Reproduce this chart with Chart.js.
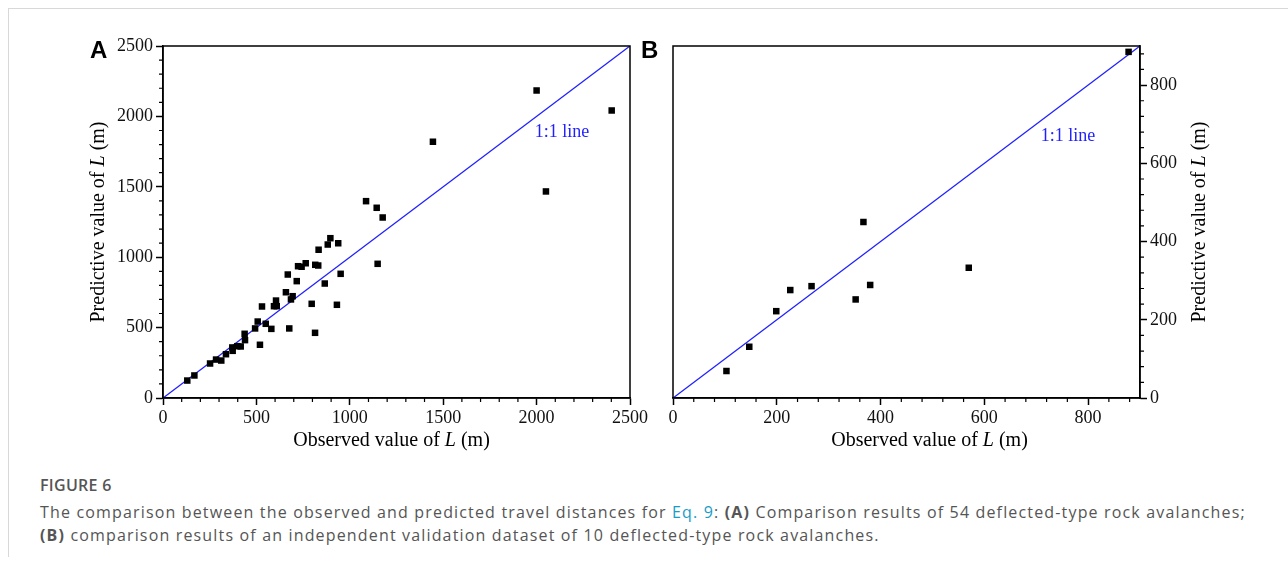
<!DOCTYPE html>
<html>
<head>
<meta charset="utf-8">
<script src="https://cdn.jsdelivr.net/npm/chart.js@4.4.1/dist/chart.umd.min.js"></script>
<style>
    body { margin: 0; width: 1288px; height: 568px; background: #fff; position: relative; overflow: hidden; }
    #frame { position: absolute; left: 8px; top: 8px; width: 1280px; height: 548px; border-top: 1px solid #d8d8d8; border-left: 1px solid #d8d8d8; }
    canvas { position: absolute; }
    .panel-tag { position: absolute; font: bold 24px "Liberation Sans", Arial, sans-serif; color: #000; }
    #caption { position: absolute; left: 40px; top: 474px; width: 1240px; font-family: "Open Sans", sans-serif; color: #555; }
    #caption .fig { font-size: 16px; font-weight: 600; letter-spacing: 0.3px; margin-bottom: 5px; }
    #caption .txt { font-size: 16px; line-height: 23px; letter-spacing: 1.16px; white-space: nowrap; }
    #caption a { color: #1a9bc7; text-decoration: none; }
</style>
</head>
<body>
<div id="frame"></div>
<canvas id="chart-a" width="600" height="430" style="left:60px; top:30px;"></canvas>
<canvas id="chart-b" width="600" height="430" style="left:660px; top:30px;"></canvas>
<div class="panel-tag" style="left:90px; top:36px;">A</div>
<div class="panel-tag" style="left:641px; top:36px;">B</div>
<div id="caption">
    <div class="fig">FIGURE 6</div>
    <div class="txt">The comparison between the observed and predicted travel distances for <a>Eq. 9</a>: <b>(A)</b> Comparison results of 54 deflected-type rock avalanches;<br><b>(B)</b> comparison results of an independent validation dataset of 10 deflected-type rock avalanches.</div>
</div>

<script>
// Painel A: 54 avalanches (observado x previsto)
const observedA = [1445, 2000, 2402, 2050, 1087, 1144, 1176, 896, 882, 938, 833, 723, 742, 764, 815, 831, 668, 716, 951, 866, 1149,
    658, 694, 685, 796, 931, 530, 605, 594, 609, 507, 550, 580, 676, 814, 493,
    130, 168, 252, 284, 312, 337, 373, 371, 398, 416, 439, 437, 519];
const predictedA = [1820, 2184, 2042, 1467, 1398, 1351, 1282, 1135, 1090, 1099, 1053, 936, 932, 957, 946, 941, 877, 830, 882, 813, 953,
    751, 723, 700, 669, 662, 650, 692, 652, 652, 543, 527, 491, 494, 463, 494,
    124, 160, 245, 273, 266, 311, 335, 359, 368, 366, 411, 456, 378];
const ticksA = [0, 500, 1000, 1500, 2000, 2500];

// Painel B: validação independente
const observedB = [103, 147, 199, 226, 267, 352, 367, 380, 570, 878];
const predictedB = [69, 131, 222, 276, 286, 252, 450, 289, 333, 885];
const ticksB = [0, 200, 400, 600, 800];

const serif = '"Liberation Serif", "Times New Roman", serif';
const tickFont = { family: serif, size: 18 };

function drawRich(ctx, parts, x, y, rotate) {
    ctx.save();
    ctx.translate(x, y);
    if (rotate) ctx.rotate(-Math.PI / 2);
    let total = 0;
    parts.forEach(p => { ctx.font = p[1]; total += ctx.measureText(p[0]).width; });
    let cx = -total / 2;
    ctx.textBaseline = 'middle';
    ctx.textAlign = 'left';
    ctx.fillStyle = '#000';
    parts.forEach(p => { ctx.font = p[1]; ctx.fillText(p[0], cx, 0); cx += ctx.measureText(p[0]).width; });
    ctx.restore();
}

function titleParts(word) {
    return [[word + ' value of ', `20px ${serif}`], ['L', `italic 20px ${serif}`], [' (m)', `20px ${serif}`]];
}

function minorValues(max, step, majorStep) {
    const out = [];
    for (let v = step; v < max; v += step) if (v % majorStep !== 0) out.push(v);
    return out;
}

function makeChart(id, o) {
    const ctx = document.getElementById(id).getContext('2d');
    const points = o.xs.map((x, i) => ({ x: x, y: o.ys[i] }));

    const decorPlugin = {
        id: 'decor',
        afterDraw(chart) {
            const c = chart.ctx, a = chart.chartArea;
            const sx = chart.scales.x, sy = chart.scales.y;
            c.save();
            c.strokeStyle = '#000';
            c.lineWidth = 1.5;
            c.strokeRect(a.left, a.top, a.right - a.left, a.bottom - a.top);
            // ticks menores
            c.lineWidth = 1.2;
            c.beginPath();
            minorValues(o.max, o.minor, o.major).forEach(v => {
                const px = sx.getPixelForValue(v);
                c.moveTo(px, a.bottom); c.lineTo(px, a.bottom + 4);
                const py = sy.getPixelForValue(v);
                if (o.yRight) { c.moveTo(a.right, py); c.lineTo(a.right + 4, py); }
                else { c.moveTo(a.left, py); c.lineTo(a.left - 4, py); }
            });
            c.stroke();
            // rótulo 1:1
            c.fillStyle = '#1f1fff';
            c.font = `18px ${serif}`;
            c.textAlign = 'center';
            c.textBaseline = 'middle';
            c.fillText('1:1 line', sx.getPixelForValue(o.lineLabel[0]), sy.getPixelForValue(o.lineLabel[1]));
            c.restore();
            // títulos dos eixos
            const midX = (a.left + a.right) / 2, midY = (a.top + a.bottom) / 2;
            drawRich(c, titleParts('Observed'), midX + o.xTitleShift, a.bottom + 43, false);
            drawRich(c, titleParts('Predictive'), o.yRight ? a.right + 60 : a.left - 64, midY, true);
        }
    };

    const plainLabel = v => String(v);

    return new Chart(ctx, {
        type: 'scatter',
        data: {
            datasets: [
                { data: points, pointStyle: 'rect', pointRadius: 4.6, backgroundColor: '#000', borderColor: '#000', borderWidth: 0 },
                { type: 'line', data: [{ x: 0, y: 0 }, { x: o.max, y: o.max }], borderColor: '#1f1fff', borderWidth: 1.3, pointRadius: 0, fill: false }
            ]
        },
        options: {
            responsive: false,
            animation: false,
            events: [],
            layout: { padding: o.padding },
            plugins: { legend: { display: false }, tooltip: { enabled: false } },
            scales: {
                x: {
                    type: 'linear', min: 0, max: o.max,
                    afterBuildTicks: s => { s.ticks = o.ticks.map(v => ({ value: v })); },
                    afterFit: s => { s.height = 62; },
                    grid: { drawOnChartArea: false, drawTicks: true, tickLength: 7, tickWidth: 1.5, tickColor: '#000' },
                    border: { display: true, color: '#000', width: 1.5 },
                    ticks: { font: tickFont, color: '#111', padding: 2, maxRotation: 0, autoSkip: false, callback: plainLabel }
                },
                y: {
                    type: 'linear', min: 0, max: o.max, position: o.yRight ? 'right' : 'left',
                    afterBuildTicks: s => { s.ticks = o.ticks.map(v => ({ value: v })); },
                    afterFit: s => { s.width = o.yWidth; },
                    grid: { drawOnChartArea: false, drawTicks: true, tickLength: 7, tickWidth: 1.5, tickColor: '#000' },
                    border: { display: true, color: '#000', width: 1.5 },
                    ticks: { font: tickFont, color: '#111', padding: 3, autoSkip: false, callback: plainLabel }
                }
            }
        },
        plugins: [decorPlugin]
    });
}

makeChart('chart-a', {
    xs: observedA, ys: predictedA, ticks: ticksA, max: 2500, major: 500, minor: 100,
    yRight: false, yWidth: 103, padding: { left: 0, top: 16, right: 30, bottom: 0 },
    lineLabel: [2136, 1886], xTitleShift: -5
});
makeChart('chart-b', {
    xs: observedB, ys: predictedB, ticks: ticksB, max: 900, major: 200, minor: 40,
    yRight: true, yWidth: 120, padding: { left: 13, top: 16, right: 0, bottom: 0 },
    lineLabel: [761, 669], xTitleShift: 23
});
</script>
</body>
</html>
